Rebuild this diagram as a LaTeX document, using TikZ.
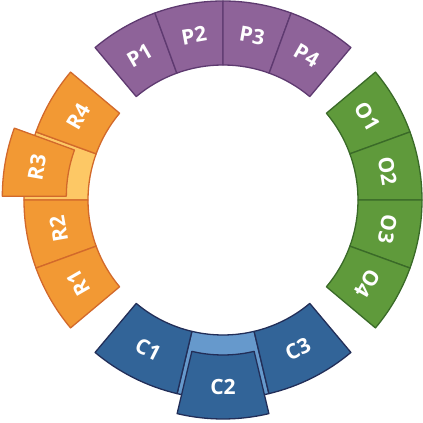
\documentclass[tikz,border=0pt]{standalone}
\usepackage{fontspec}
\setmainfont{Open Sans}
\definecolor{pfill}{HTML}{8E6399}
\definecolor{pline}{HTML}{5E3A70}
\definecolor{ofill}{HTML}{5F9A3B}
\definecolor{oline}{HTML}{3A6A28}
\definecolor{rfill}{HTML}{F29934}
\definecolor{rline}{HTML}{D2692B}
\definecolor{rlight}{HTML}{FDC865}
\definecolor{cfill}{HTML}{326498}
\definecolor{cline}{HTML}{222E58}
\definecolor{clight}{HTML}{6699CC}
\tikzset{
  seg/.style={line width=1.3pt, line join=round},
  pseg/.style={seg, fill=pfill, draw=pline},
  oseg/.style={seg, fill=ofill, draw=oline},
  rseg/.style={seg, fill=rfill, draw=rline},
  cseg/.style={seg, fill=cfill, draw=cline},
  lbl/.style={text=white, inner sep=0pt, font=\bfseries\fontsize{21}{24}\selectfont},
}
\begin{document}
\begin{tikzpicture}[x=1pt,y=1pt]
	\useasboundingbox (-223,-223) rectangle (200,200);
	% P group, top
	\draw[pseg] (110:135) arc (110:130:135) -- (130:199) arc (130:110:199) -- cycle;
	\draw[pseg] (90:135) arc (90:110:135) -- (110:199) arc (110:90:199) -- cycle;
	\draw[pseg] (70:135) arc (70:90:135) -- (90:199) arc (90:70:199) -- cycle;
	\draw[pseg] (50:135) arc (50:70:135) -- (70:199) arc (70:50:199) -- cycle;
	\node[lbl, rotate=30] (P1) at (120:167) {P1};
	\node[lbl, rotate=10] (P2) at (100:167) {P2};
	\node[lbl, rotate=-10] (P3) at (80:167) {P3};
	\node[lbl, rotate=-30] (P4) at (60:167) {P4};
	% O group, right
	\draw[oseg] (20:135) arc (20:40:135) -- (40:199) arc (40:20:199) -- cycle;
	\draw[oseg] (0:135) arc (0:20:135) -- (20:199) arc (20:0:199) -- cycle;
	\draw[oseg] (-20:135) arc (-20:0:135) -- (0:199) arc (0:-20:199) -- cycle;
	\draw[oseg] (-40:135) arc (-40:-20:135) -- (-20:199) arc (-20:-40:199) -- cycle;
	\node[lbl, rotate=-60] (O1) at (30:167) {O1};
	\node[lbl, rotate=-80] (O2) at (10:167) {O2};
	\node[lbl, rotate=-100] (O3) at (-10:167) {O3};
	\node[lbl, rotate=-120] (O4) at (-30:167) {O4};
	% R group, left (R3 pulled out)
	\draw[seg, fill=rlight, draw=rline] (160:135) arc (160:180:135) -- (180:199) arc (180:160:199) -- cycle;
	\draw[rseg] (140:135) arc (140:160:135) -- (160:199) arc (160:140:199) -- cycle;
	\draw[rseg] (180:135) arc (180:200:135) -- (200:199) arc (200:180:199) -- cycle;
	\draw[rseg] (200:135) arc (200:220:135) -- (220:199) arc (220:200:199) -- cycle;
	\begin{scope}[shift={(170:22)}]
		\draw[rseg] (160:135) arc (160:180:135) -- (180:199) arc (180:160:199) -- cycle;
		\node[lbl, rotate=80] (R3) at (170:167) {R3};
	\end{scope}
	\node[lbl, rotate=60] (R4) at (150:167) {R4};
	\node[lbl, rotate=100] (R2) at (190:167) {R2};
	\node[lbl, rotate=120] (R1) at (210:167) {R1};
	% C group, bottom (C2 pulled out)
	\draw[seg, fill=clight, draw=cline] (256.667:135) arc (256.667:283.333:135) -- (283.333:199) arc (283.333:256.667:199) -- cycle;
	\draw[cseg] (230:135) arc (230:256.667:135) -- (256.667:199) arc (256.667:230:199) -- cycle;
	\draw[cseg] (283.333:135) arc (283.333:310:135) -- (310:199) arc (310:283.333:199) -- cycle;
	\begin{scope}[shift={(270:20)}]
		\draw[cseg] (256.667:135) arc (256.667:283.333:135) -- (283.333:199) arc (283.333:256.667:199) -- cycle;
		\node[lbl] (C2) at (270:167) {C2};
	\end{scope}
	\node[lbl, rotate=-26.667] (C1) at (243.333:167) {C1};
	\node[lbl, rotate=26.667] (C3) at (296.667:167) {C3};
\end{tikzpicture}
\end{document}
